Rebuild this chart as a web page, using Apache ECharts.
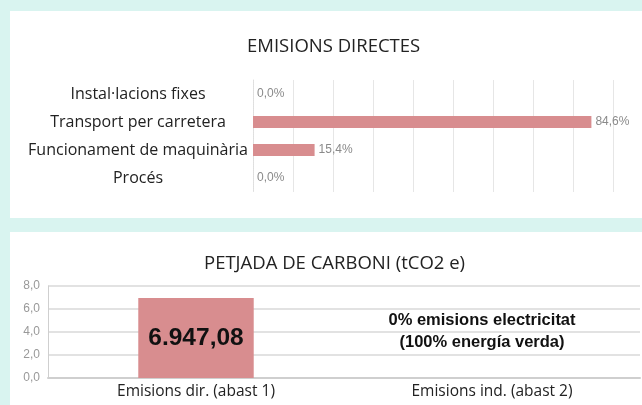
<!DOCTYPE html>
<html>
<head>
<meta charset="utf-8">
<script src="https://cdn.jsdelivr.net/npm/echarts@6/dist/echarts.min.js"></script>
<style>
  html, body {margin: 0; padding: 0; background: #d9f4f0;}
  #chart {width: 642px; height: 405px;}
</style>
</head>
<body>
<div id="chart"></div>
<script>
// emisions directes (% per font)
const directCategories = ['Instal·lacions fixes', 'Transport per carretera', 'Funcionament de maquinària', 'Procés'];
const directValues = [0.0, 84.6, 15.4, 0.0];

// petjada de carboni (tCO2 e)
const footprintCategories = ['Emisions dir. (abast 1)', 'Emisions ind. (abast 2)'];
const footprintValues = [6.94708, 0];
const footprintBarLabel = '6.947,08';
const footprintNote = ['0% emisions electricitat', '(100% energía verda)'];
const footprintTicks = [0, 2, 4, 6, 8];

const barColor = '#d88d8f';
const comma = (n, d) => n.toFixed(d).replace('.', ',');

const chart = echarts.init(document.getElementById('chart'));

const option = {
  backgroundColor: '#d9f4f0',
  animation: false,
  graphic: [
    {type: 'rect', shape: {x: 10, y: 11, width: 632, height: 207}, style: {fill: '#fff'}, z: -10},
    {type: 'rect', shape: {x: 10, y: 232, width: 632, height: 173}, style: {fill: '#fff'}, z: -10},
  ],
  title: [
    {
      text: 'EMISIONS DIRECTES',
      left: 242,
      top: 32,
      textStyle: {fontFamily: 'Open Sans', fontSize: 18.5, fontWeight: 'normal', color: '#222'},
    },
    {
      text: 'PETJADA DE CARBONI (tCO2 e)',
      left: 199,
      top: 249,
      textStyle: {fontFamily: 'Open Sans', fontSize: 18.5, fontWeight: 'normal', color: '#222'},
    },
  ],
  grid: [
    {left: 253, right: 29, top: 80, bottom: 213},
    {left: 48, right: 2, top: 286, bottom: 27},
  ],
  xAxis: [
    {
      gridIndex: 0,
      type: 'value',
      min: 0,
      max: 90,
      interval: 10,
      axisLabel: {show: false},
      axisLine: {show: false},
      axisTick: {show: false},
      splitLine: {show: true, lineStyle: {color: '#e6e6e6', width: 1}},
    },
    {
      gridIndex: 1,
      type: 'category',
      data: footprintCategories,
      axisLine: {show: true, lineStyle: {color: '#cfcfcf', width: 2}},
      axisTick: {show: false},
      axisLabel: {fontFamily: 'Open Sans', fontSize: 15.5, color: '#222', margin: 6},
    },
  ],
  yAxis: [
    {
      gridIndex: 0,
      type: 'category',
      inverse: true,
      data: directCategories,
      axisLine: {show: true, lineStyle: {color: '#dedede', type: 'dotted'}},
      axisTick: {show: false},
      axisLabel: {fontFamily: 'Open Sans', fontSize: 16, color: '#222', margin: 115, align: 'center'},
    },
    {
      gridIndex: 1,
      type: 'value',
      min: footprintTicks[0],
      max: footprintTicks[footprintTicks.length - 1],
      interval: 2,
      axisLine: {show: true, lineStyle: {color: '#cfcfcf', width: 1}},
      axisTick: {show: false},
      axisLabel: {
        fontFamily: 'Liberation Sans Narrow, Liberation Sans',
        fontSize: 12,
        color: '#999',
        margin: 8,
        formatter: (v) => comma(v, 1),
      },
      splitLine: {show: true, lineStyle: {color: '#e2e2e2', width: 2}},
    },
  ],
  series: [
    {
      type: 'bar',
      xAxisIndex: 0,
      yAxisIndex: 0,
      data: directValues,
      barWidth: 12,
      itemStyle: {color: barColor},
      label: {
        show: true,
        position: 'right',
        distance: 4,
        fontFamily: 'Liberation Sans Narrow, Liberation Sans',
        fontSize: 12,
        color: '#8a8a8a',
        formatter: (p) => comma(p.value, 1) + '%',
      },
    },
    {
      type: 'bar',
      xAxisIndex: 1,
      yAxisIndex: 1,
      barWidth: '39%',
      itemStyle: {color: barColor},
      data: footprintValues.map((v, i) =>
        i === 0
          ? {
              value: v,
              label: {
                show: true,
                position: 'inside',
                formatter: footprintBarLabel,
                fontFamily: 'Liberation Sans',
                fontWeight: 'bold',
                fontSize: 24.5,
                color: '#111',
              },
            }
          : {
              value: v,
              label: {
                show: true,
                position: 'top',
                distance: 0,
                offset: [-10, -25],
                formatter: footprintNote.join('\n'),
                fontFamily: 'Liberation Sans',
                fontWeight: 'bold',
                fontSize: 16.5,
                lineHeight: 22,
                color: '#111',
              },
            }
      ),
    },
  ],
};

chart.setOption(option);
</script>
</body>
</html>
